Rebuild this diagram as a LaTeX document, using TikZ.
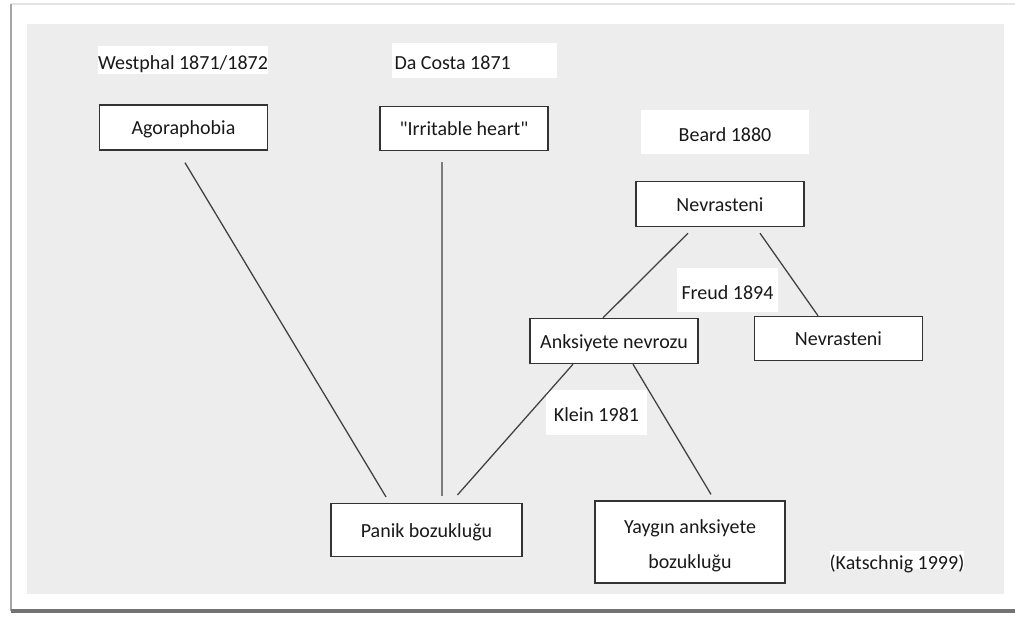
\documentclass[tikz,border=0pt]{standalone}
\usepackage{fontspec}
\newfontfamily\carlito{Carlito}
\usetikzlibrary{calc}
\tikzset{
    box/.style={
        draw=black!80, line width=0.8pt, fill=white, text=black!90,
        inner sep=0pt, text height=9pt, text depth=1pt,
        font=\carlito\fontsize{11}{13}\selectfont,
        minimum width=#1
    },
    box/.default=92.5pt,
    tag/.style={
        fill=white, text=black!90, inner sep=0pt,
        text height=10pt, text depth=0pt,
        font=\carlito\fontsize{11}{13}\selectfont
    },
    link/.style={draw=black!75, line width=0.7pt}
}

\begin{document}
\begin{tikzpicture}[x=0.55pt,y=-0.55pt]

		% Frame and background
		\useasboundingbox (0,0) rectangle (1015,617);
		\fill [white] (0,0) rectangle (1015,617);
		\draw [black!10, line width=0.8pt] (11,4) -- (1015,4);
		\draw [black!35, line width=1.2pt] (11,4) -- (11,611);
		\draw [black!55, line width=2pt] (11,611) -- (1015,611);
		\fill [black!7] (27,24) rectangle (1004,594);

		% Westphal: Agoraphobia
		\node [tag, minimum width=89pt, minimum height=15.5pt] (westphal) at (183,60) {Westphal 1871/1872};
		\node [box, minimum height=24.75pt] (agora) at (183.5,127.5) {Agoraphobia};

		% Da Costa: Irritable heart
		\node [tag, minimum width=90.5pt, minimum height=19pt, text width=88pt, align=flush left] (dacosta) at (474.5,60.5) {Da Costa 1871};
		\node [box, minimum height=24.2pt] (irritable) at (464,128.5) {"Irritable heart"};

		% Beard: Nevrasteni
		\node [tag, minimum width=92.5pt, minimum height=24.2pt] (beard) at (725,132) {Beard 1880};
		\node [box, minimum height=24.75pt] (nevtop) at (720,204) {Nevrasteni};

		% Freud
		\node [tag, minimum width=55.5pt, minimum height=24.2pt] (freud) at (727.5,290) {Freud 1894};
		\node [box, minimum height=24.75pt] (anks) at (614,341) {Anksiyete nevrozu};
		\node [box, minimum height=24.2pt] (nevright) at (838.5,338.5) {Nevrasteni};

		% Klein
		\node [tag, minimum width=55.5pt, minimum height=24.75pt] (klein) at (596.5,412.5) {Klein 1981};
		\node [box=105pt, minimum height=29pt] (panik) at (426.5,530) {Panik bozukluğu};
		\node [box=104.5pt, minimum height=45pt, text height=30pt, align=center, font=\carlito\fontsize{11}{19}\selectfont] (yaygin) at (690,542) {Yaygın anksiyete\\bozukluğu};

		% Source
		\node [tag] (katsch) at (897,560) {(Katschnig 1999)};

		% Links
		\draw [link] ($(agora.south)+(1.5,12)$) -- ($(panik.north)+(-40.5,-6)$);
		\draw [link] ($(irritable.south)+(-22,11)$) -- ($(panik.north)+(15.5,-7)$);
		\draw [link] ($(nevtop.south)+(-32,6)$) -- ($(anks.north)+(-11,0)$);
		\draw [link] ($(nevtop.south)+(40,6)$) -- ($(nevright.north)+(-20.5,0)$);
		\draw [link] ($(anks.south)+(-41,0)$) -- ($(panik.north)+(31,-8)$);
		\draw [link] ($(anks.south)+(19,0)$) -- ($(yaygin.north)+(21,-6)$);

	\end{tikzpicture}
\end{document}
